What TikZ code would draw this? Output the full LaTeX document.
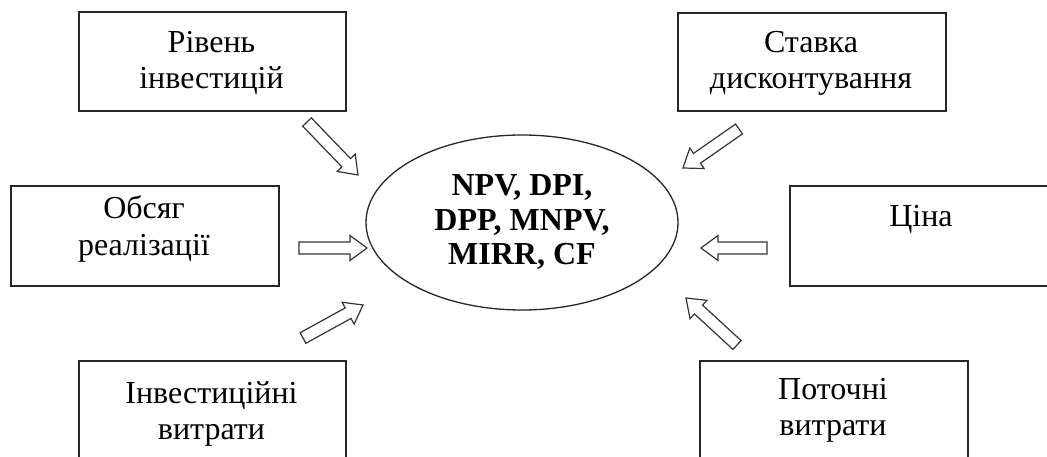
\documentclass[tikz,border=0pt]{standalone}
\usepackage{fontspec}
\setmainfont{Liberation Serif}
\usetikzlibrary{calc,shapes.geometric}
\tikzset{
  box/.style={draw=black!85, line width=1.7pt, rectangle, inner sep=0pt, anchor=north west},
  lbl/.style={align=center, font=\fontsize{32}{36}\selectfont, inner sep=0pt, anchor=base},
  res/.style={draw=black!85, line width=1.3pt, ellipse, inner sep=0pt, align=center,
    font=\fontsize{32}{34.5}\selectfont\bfseries},
  barrow/.style={draw=black!80, line width=1.2pt, fill=white, line join=miter},
}
\newcommand\blkarrow[2]{%
  \coordinate (#1b) at ($(#2)!17pt!(#1)$);
  \draw[barrow] ($(#1)!6pt!90:(#2)$) -- ($(#1b)!6pt!90:(#2)$) -- ($(#1b)!12.5pt!90:(#2)$)
    -- (#2) -- ($(#1b)!12.5pt!-90:(#2)$) -- ($(#1b)!6pt!-90:(#2)$) -- ($(#1)!6pt!-90:(#2)$) -- cycle;}
\begin{document}
\begin{tikzpicture}[x=1pt,y=-1pt]
\useasboundingbox (0,0) rectangle (1047,457);
\fill[white] (0,0) rectangle (1047,457);
\clip (0,0) rectangle (1047,457);
% boxes
\node[box, minimum width=267pt, minimum height=99pt] (b1) at (78,11) {};
\node[box, minimum width=268pt, minimum height=100pt] (b2) at (10,185) {};
\node[box, minimum width=267pt, minimum height=130pt] (b3) at (78,360) {};
\node[box, minimum width=268pt, minimum height=98pt] (b4) at (677,12) {};
\node[box, minimum width=290pt, minimum height=100pt] (b5) at (789,185) {};
\node[box, minimum width=268pt, minimum height=130pt] (b6) at (699,360) {};
% labels (anchor = baseline of the last line)
\node[lbl] (t1) at (211.5,89) {Рівень\\інвестицій};
\node[lbl] (t2) at (144,255) {Обсяг\\реалізації};
\node[lbl] (t3) at (211.5,439) {Інвестиційні\\витрати};
\node[lbl] (t4) at (811,89) {Ставка\\дисконтування};
\node[lbl] (t5) at (921,227) {Ціна};
\node[lbl] (t6) at (833,435) {Поточні\\витрати};
% centre
\node[res, minimum width=312pt, minimum height=175pt] (res) at (522,222.5) {NPV, DPI,\\DPP, MNPV,\\MIRR, CF};
% arrows
\coordinate (a1) at (307,122); \coordinate (h1) at (358,175);
\coordinate (a2) at (299,248); \coordinate (h2) at (367,248);
\coordinate (a3) at (303,338); \coordinate (h3) at (363,305);
\coordinate (a4) at (739,129); \coordinate (h4) at (683,168);
\coordinate (a5) at (767,248); \coordinate (h5) at (701,248);
\coordinate (a6) at (737,345); \coordinate (h6) at (686,298);
\blkarrow{a1}{h1}
\blkarrow{a2}{h2}
\blkarrow{a3}{h3}
\blkarrow{a4}{h4}
\blkarrow{a5}{h5}
\blkarrow{a6}{h6}
\end{tikzpicture}
\end{document}
